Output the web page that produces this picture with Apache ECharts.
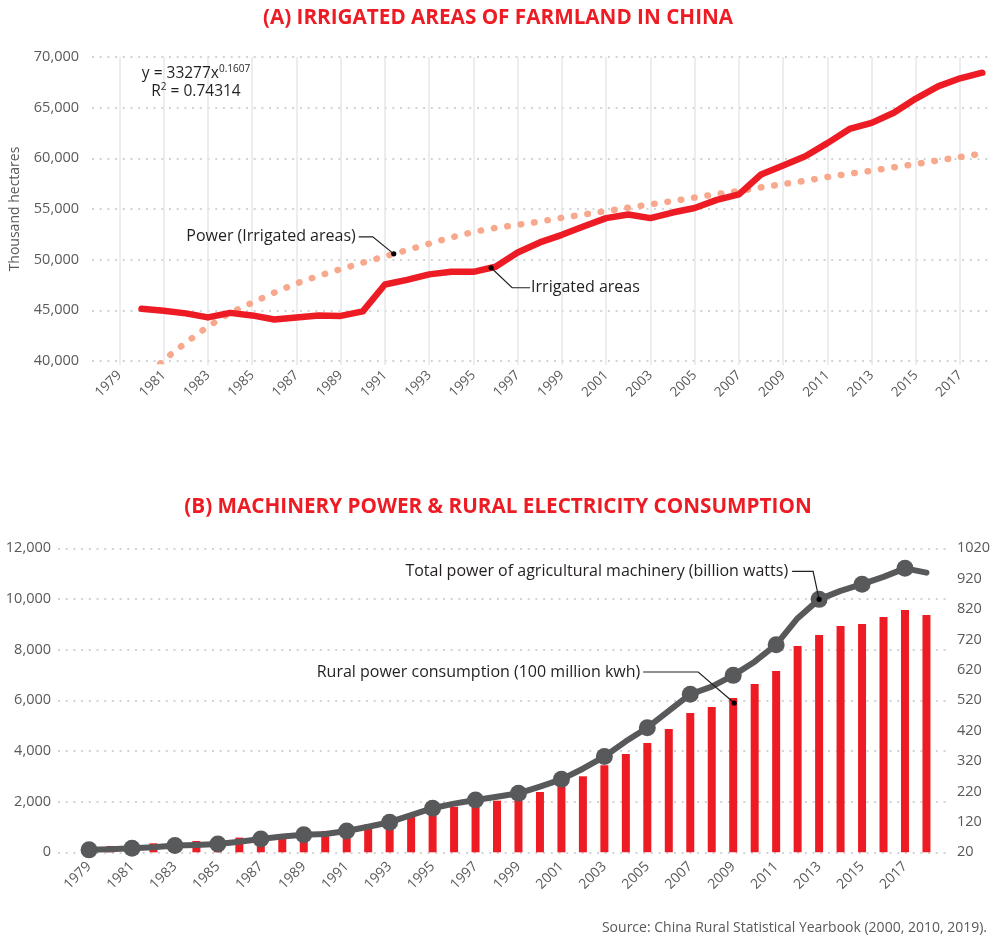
<!DOCTYPE html>
<html>
<head>
<meta charset="utf-8">
<script src="https://cdn.jsdelivr.net/npm/echarts@6/dist/echarts.min.js"></script>
<style>
html, body { margin: 0; padding: 0; background: #fff; }
#chart { width: 996px; height: 939px; }
</style>
</head>
<body>
<div id="chart"></div>
<script>
// years on both category axes
const years = ['1979', '1980', '1981', '1982', '1983', '1984', '1985', '1986', '1987', '1988',
    '1989', '1990', '1991', '1992', '1993', '1994', '1995', '1996', '1997', '1998',
    '1999', '2000', '2001', '2002', '2003', '2004', '2005', '2006', '2007', '2008',
    '2009', '2010', '2011', '2012', '2013', '2014', '2015', '2016', '2017', '2018']

// (A) irrigated area, thousand hectares
const irrigated = [null, 45150, 44950, 44700, 44300, 44750, 44500, 44100, 44300, 44480,
    44450, 44900, 47550, 48000, 48550, 48800, 48800, 49300, 50700, 51700,
    52450, 53300, 54100, 54450, 54100, 54650, 55100, 55900, 56450, 58400,
    59300, 60200, 61500, 62900, 63500, 64500, 65900, 67100, 67900, 68450]

// power trendline as drawn on the chart
const irrigatedTrend = [null, 37800, 40100, 41800, 43400, 44750, 45750, 46750, 47650, 48400,
    49060, 49700, 50330, 50940, 51580, 52200, 52740, 53140, 53440, 53760,
    54140, 54460, 54790, 55130, 55450, 55780, 56130, 56470, 56770, 57130,
    57460, 57790, 58150, 58480, 58780, 59110, 59440, 59790, 60130, 60470]

// (B) rural power consumption, 100 million kwh (left axis)
const ruralPower = [230, 250, 300, 355, 380, 446, 480, 580, 650, 700,
    790, 840, 960, 1100, 1245, 1400, 1650, 1800, 1980, 2037,
    2170, 2380, 2610, 3000, 3440, 3880, 4310, 4870, 5500, 5735,
    6090, 6640, 7160, 8140, 8580, 8930, 9010, 9290, 9560, 9370]

// (B) total power of agricultural machinery, billion watts (right axis)
const machinery = [28, 30, 33, 37, 42, 44, 47, 55, 64, 72,
    78, 80, 90, 104, 119, 142, 165, 180, 192, 203,
    214, 236, 260, 295, 335, 385, 430, 485, 540, 565,
    602, 647, 703, 790, 852, 880, 902, 926, 954, 940]

const areaTicks = { min: 40000, max: 70000, interval: 5000 }
const powerTicks = { min: 0, max: 12000, interval: 2000 }
const machineTicks = { min: 20, max: 1020, interval: 100 }

const RED = '#ED1C24'
const SALMON = '#F8A88C'
const GREY = '#58595B'
const INK = '#231F20'
const FONT = 'Open Sans'

const dotted = { color: '#D1D3D4', width: 2, type: [2, 5.7] }

const chart = echarts.init(document.getElementById('chart'))

const option = {
    animation: false,
    textStyle: { fontFamily: FONT },
    title: [
        {
            text: '(A) IRRIGATED AREAS OF FARMLAND IN CHINA',
            left: 'center', top: 8, padding: 0,
            textStyle: { color: RED, fontSize: 20.7, fontWeight: 'bold', fontFamily: FONT },
        },
        {
            text: '(B) MACHINERY POWER & RURAL ELECTRICITY CONSUMPTION',
            left: 'center', top: 497, padding: 0,
            textStyle: { color: RED, fontSize: 20.7, fontWeight: 'bold', fontFamily: FONT },
        },
    ],
    grid: [
        { left: 90, right: 6, top: 57, height: 304 },
        { left: 119.4, right: 13.7, top: 57, height: 304 },
        { left: 58, right: 46, top: 548.3, height: 304 },
        { left: 78.3, right: 58.8, top: 548.3, height: 304 },
    ],
    xAxis: [
        { gridIndex: 0, type: 'value', min: 0, max: 1, show: false },
        {
            gridIndex: 1, type: 'category', data: years, boundaryGap: false,
            axisLine: { show: false },
            axisTick: { show: true, interval: 1, length: 4, lineStyle: { color: '#E6E7E8', width: 1.5 } },
            splitLine: { show: true, interval: 1, lineStyle: { color: '#E6E7E8', width: 1.5 } },
            axisLabel: { interval: 1, rotate: 45, margin: 12, color: GREY, fontSize: 13.5, fontFamily: FONT },
        },
        { gridIndex: 2, type: 'value', min: 0, max: 1, show: false },
        {
            gridIndex: 3, type: 'category', data: years, boundaryGap: true,
            axisLine: { show: false },
            axisTick: { show: false },
            splitLine: { show: false },
            axisLabel: { interval: 1, rotate: 45, margin: 12, color: GREY, fontSize: 14, fontFamily: FONT },
        },
    ],
    yAxis: [
        {
            gridIndex: 0, type: 'value', ...areaTicks,
            name: 'Thousand hectares', nameLocation: 'middle', nameGap: 70, nameRotate: 90,
            nameTextStyle: { color: GREY, fontSize: 14, fontFamily: FONT },
            axisLine: { show: false }, axisTick: { show: false },
            splitLine: { show: true, lineStyle: dotted },
            axisLabel: {
                margin: 13, color: GREY, fontSize: 14.5, fontFamily: FONT,
                formatter: v => v.toLocaleString('en-US'),
            },
        },
        { gridIndex: 1, type: 'value', ...areaTicks, show: false },
        {
            gridIndex: 2, type: 'value', position: 'left', ...powerTicks,
            axisLine: { show: false }, axisTick: { show: false },
            splitLine: { show: true, lineStyle: dotted },
            axisLabel: {
                margin: 7, color: GREY, fontSize: 14.5, fontFamily: FONT,
                formatter: v => v.toLocaleString('en-US'),
            },
        },
        {
            gridIndex: 2, type: 'value', position: 'right', ...machineTicks,
            axisLine: { show: false }, axisTick: { show: false },
            splitLine: { show: false },
            axisLabel: { margin: 7, color: GREY, fontSize: 14.5, fontFamily: FONT, formatter: v => String(v) },
        },
        { gridIndex: 3, type: 'value', position: 'left', ...powerTicks, show: false },
        { gridIndex: 3, type: 'value', position: 'right', ...machineTicks, show: false },
    ],
    series: [
        {
            name: 'Power (Irrigated areas)', type: 'line',
            xAxisIndex: 1, yAxisIndex: 1, data: irrigatedTrend,
            symbol: 'none', silent: true, z: 2,
            lineStyle: { color: SALMON, width: 6.5, type: [0.5, 13], cap: 'round' },
        },
        {
            name: 'Irrigated areas', type: 'line',
            xAxisIndex: 1, yAxisIndex: 1, data: irrigated,
            symbol: 'none', silent: true, z: 3,
            lineStyle: { color: RED, width: 6.5, cap: 'round', join: 'round' },
        },
        {
            name: 'Rural power consumption', type: 'bar',
            xAxisIndex: 3, yAxisIndex: 4, data: ruralPower,
            barWidth: 8, silent: true, z: 2,
            itemStyle: { color: RED },
        },
        {
            name: 'Total power of agricultural machinery', type: 'line',
            xAxisIndex: 3, yAxisIndex: 5, data: machinery,
            showAllSymbol: true,
            symbol: (v, p) => (p.dataIndex % 2 === 0 ? 'circle' : 'none'),
            symbolSize: 17, silent: true, z: 3,
            itemStyle: { color: GREY },
            lineStyle: { color: GREY, width: 6, cap: 'round', join: 'round' },
        },
    ],
}

chart.setOption(option)

// callouts anchored on the drawn data
const txt = (x, y, text, align) => ({
    type: 'text', x, y, z: 20,
    style: { text, fill: INK, fontSize: 16, fontFamily: FONT, align, verticalAlign: 'middle' },
})
const leader = (pts) => ({
    type: 'polyline', z: 19, shape: { points: pts },
    style: { stroke: INK, lineWidth: 1.2, fill: null },
})
const dot = (x, y) => ({ type: 'circle', z: 21, shape: { cx: x, cy: y, r: 2.6 }, style: { fill: '#000' } })

// point part way along a series segment (i -> i+1)
const along = (axes, arr, i, t) => {
    const a = chart.convertToPixel(axes, [i, arr[i]])
    const b = chart.convertToPixel(axes, [i + 1, arr[i + 1]])
    return [a[0] + (b[0] - a[0]) * t, a[1] + (b[1] - a[1]) * t]
}
const topAxes = { xAxisIndex: 1, yAxisIndex: 1 }
const tp = along(topAxes, irrigatedTrend, 12, 0.4)
const ip = along(topAxes, irrigated, 16, 0.8)
const mp = chart.convertToPixel({ xAxisIndex: 3, yAxisIndex: 5 }, [34, machinery[34]])
const bp = chart.convertToPixel({ xAxisIndex: 3, yAxisIndex: 4 }, [30, ruralPower[30]])

const eqRich = {
    m: { fontSize: 15.5, fontFamily: FONT, fill: INK, lineHeight: 19 },
    s: { fontSize: 10, fontFamily: FONT, fill: INK, verticalAlign: 'top', lineHeight: 19, padding: [0, 0, 6, 0] },
}

chart.setOption({
    graphic: [
        {
            type: 'text', x: 196, y: 74, z: 20,
            style: { text: '{m|y = 33277x}{s|0.1607}', align: 'center', verticalAlign: 'middle', fill: INK, rich: eqRich },
        },
        {
            type: 'text', x: 196, y: 92, z: 20,
            style: { text: '{m|R}{s|2}{m| = 0.74314}', align: 'center', verticalAlign: 'middle', fill: INK, rich: eqRich },
        },
        leader([[tp[0] - 35, tp[1] - 17], [tp[0] - 21, tp[1] - 17], tp]),
        dot(tp[0], tp[1]),
        txt(tp[0] - 38, tp[1] - 17, 'Power (Irrigated areas)', 'right'),

        leader([ip, [ip[0] + 21, ip[1] + 20], [ip[0] + 39, ip[1] + 20]]),
        dot(ip[0], ip[1]),
        txt(ip[0] + 40, ip[1] + 20, 'Irrigated areas', 'left'),

        leader([[mp[0] - 27, mp[1] - 28], [mp[0] - 6, mp[1] - 28], mp]),
        dot(mp[0], mp[1]),
        txt(mp[0] - 31, mp[1] - 28, 'Total power of agricultural machinery (billion watts)', 'right'),

        leader([[bp[0] - 90, bp[1] - 26], [bp[0] - 35, bp[1] - 26], [bp[0] + 1, bp[1] + 5]]),
        dot(bp[0] + 1, bp[1] + 5),
        txt(bp[0] - 93, bp[1] - 26, 'Rural power consumption (100 million kwh)', 'right'),

        {
            type: 'text', x: 987, y: 928, z: 20,
            style: {
                text: 'Source: China Rural Statistical Yearbook (2000, 2010, 2019).',
                fill: GREY, fontSize: 14, fontFamily: FONT, align: 'right', verticalAlign: 'middle',
            },
        },
    ],
})

window.addEventListener('resize', () => chart.resize())
</script>
</body>
</html>
